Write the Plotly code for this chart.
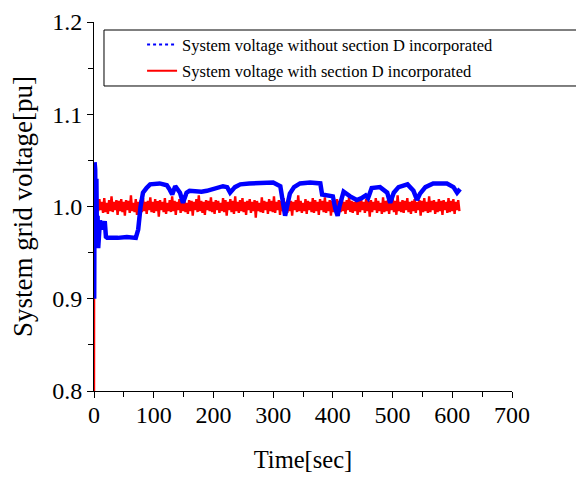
import plotly.graph_objects as go

# ---------------- data ----------------
blue_time = [0.3, 0.6, 1, 1.5, 2, 3, 4, 5, 6, 7, 8, 10, 12, 14, 16, 18, 20, 22,
             40, 55, 70, 74, 78, 82, 88, 94, 110, 122, 127, 131, 136, 140, 144,
             149, 155, 160, 170, 180, 189, 198, 206, 216, 223, 228, 236, 245,
             260, 280, 300, 312, 316, 320, 324, 328, 335, 345, 362, 379, 382,
             390, 400, 404, 408, 411, 418, 429, 440, 448, 455, 459, 465, 479,
             491, 496, 502, 510, 525, 535, 541, 546, 555, 568, 591, 602, 608, 613]
blue_voltage = [0.90, 0.95, 1.048, 0.96, 1.04, 0.955, 1.03, 0.96, 0.99, 0.955,
                0.98, 0.985, 0.975, 0.982, 0.978, 0.984, 0.967, 0.966,
                0.966, 0.967, 0.966, 0.975, 1.000, 1.015, 1.020, 1.024, 1.025,
                1.023, 1.018, 1.013, 1.022, 1.018, 1.015, 1.004, 1.015, 1.017,
                1.016, 1.016, 1.017, 1.019, 1.021, 1.022, 1.021, 1.015, 1.021,
                1.024, 1.025, 1.026, 1.026, 1.022, 1.008, 0.990, 1.002, 1.014,
                1.021, 1.025, 1.026, 1.025, 1.013, 1.012, 1.011, 0.998, 0.990,
                1.000, 1.016, 1.011, 1.007, 1.009, 1.012, 1.009, 1.020, 1.021,
                1.015, 1.004, 1.015, 1.021, 1.024, 1.017, 1.007, 1.014, 1.021,
                1.025, 1.025, 1.021, 1.015, 1.019]

red_transient_time = [0, 0.3, 0.6, 1.0, 1.5, 2.0, 2.5, 3.0, 3.5, 4.0]
red_transient_voltage = [0.80, 1.040, 0.960, 1.035, 0.975, 1.025, 0.978, 1.015, 0.985, 1.010]

red_sample_start = 5.0   # s
red_sample_step = 2.03   # s
red_voltage = [
    1.006, 0.995, 1.008, 0.996, 1.005, 0.993, 1.009, 0.994, 1.004, 0.992, 1.007, 0.995, 1.011, 0.994, 1.005, 0.996, 1.007, 0.991, 1.006, 0.995,
    1.008, 0.994, 1.005, 0.990, 1.007, 0.996, 1.006, 0.993, 1.012, 0.995, 1.004, 0.994, 1.008, 0.991, 1.005, 0.996, 1.007, 0.994, 1.009, 0.995,
    1.005, 0.992, 1.006, 0.996, 1.010, 0.994, 1.005, 0.993, 1.008, 0.995, 1.006, 0.989, 1.007, 0.996, 1.005, 0.994, 1.009, 0.992, 1.004, 0.995,
    1.007, 0.994, 1.011, 0.995, 1.006, 0.991, 1.005, 0.996, 1.008, 0.993, 1.006, 0.995, 1.009, 0.994, 1.004, 0.992, 1.007, 0.995, 1.006, 0.990,
    1.005, 0.996, 1.008, 0.994, 1.012, 0.995, 1.006, 0.993, 1.005, 0.991, 1.007, 0.996, 1.006, 0.995, 1.010, 0.994, 1.005, 0.992, 1.007, 0.996,
    1.006, 0.993, 1.004, 0.995, 1.009, 0.994, 1.007, 0.990, 1.005, 0.996, 1.008, 0.994, 1.006, 0.992, 1.011, 0.995, 1.005, 0.993, 1.007, 0.995,
    1.009, 0.994, 1.005, 0.991, 1.006, 0.996, 1.008, 0.993, 1.005, 0.995, 1.007, 0.988, 1.006, 0.995, 1.004, 0.994, 1.010, 0.993, 1.006, 0.996,
    1.005, 0.992, 1.008, 0.995, 1.006, 0.994, 1.011, 0.993, 1.005, 0.996, 1.007, 0.991, 1.006, 0.995, 1.009, 0.994, 1.005, 0.993, 1.008, 0.995,
    1.006, 0.990, 1.005, 0.996, 1.007, 0.994, 1.012, 0.995, 1.006, 0.993, 1.004, 0.995, 1.008, 0.992, 1.006, 0.996, 1.005, 0.994, 1.009, 0.993,
    1.007, 0.995, 1.005, 0.991, 1.008, 0.996, 1.006, 0.994, 1.010, 0.993, 1.005, 0.995, 1.007, 0.990, 1.006, 0.994, 1.005, 0.996, 1.008, 0.993,
    1.006, 0.994, 1.009, 0.995, 1.005, 0.992, 1.007, 0.996, 1.011, 0.994, 1.006, 0.993, 1.005, 0.995, 1.008, 0.991, 1.006, 0.994, 1.007, 0.996,
    1.005, 0.993, 1.008, 0.995, 1.006, 0.989, 1.007, 0.994, 1.005, 0.996, 1.009, 0.993, 1.006, 0.995, 1.004, 0.992, 1.010, 0.994, 1.006, 0.995,
    1.007, 0.992, 1.005, 0.996, 1.008, 0.994, 1.006, 0.991, 1.012, 0.995, 1.005, 0.994, 1.007, 0.993, 1.006, 0.996, 1.009, 0.994, 1.005, 0.992,
    1.006, 0.995, 1.008, 0.993, 1.005, 0.996, 1.007, 0.990, 1.006, 0.994, 1.009, 0.995, 1.005, 0.993, 1.011, 0.994, 1.006, 0.996, 1.007, 0.992,
    1.005, 0.994, 1.008, 0.995, 1.006, 0.991, 1.007, 0.996, 1.005, 0.993, 1.009, 0.994, 1.006, 0.995, 1.008, 0.992, 1.005, 0.996, 1.007, 0.995,
]

x_ticks = [0, 100, 200, 300, 400, 500, 600, 700]
y_ticks = [0.8, 0.9, 1.0, 1.1, 1.2]

legend_labels = ["System voltage without section D incorporated",
                 "System voltage with section D incorporated"]

# ------------- build series -------------
red_time = red_transient_time + [red_sample_start + i * red_sample_step for i in range(len(red_voltage))]
red_all = red_transient_voltage + red_voltage

FONT = "Liberation Serif"

fig = go.Figure()
fig.add_trace(go.Scatter(x=red_time, y=red_all, mode="lines",
                         line=dict(color="#FF0000", width=2.4), showlegend=False,
                         hoverinfo="skip"))
fig.add_trace(go.Scatter(x=blue_time, y=blue_voltage, mode="lines",
                         line=dict(color="#0000FF", width=4.5), showlegend=False,
                         hoverinfo="skip"))
# legend entries
fig.add_trace(go.Scatter(x=[None], y=[None], mode="lines", name=legend_labels[0],
                         line=dict(color="#0000FF", width=2, dash="dot"),
                         legendgroup="a"))
fig.add_trace(go.Scatter(x=[None], y=[None], mode="lines", name=legend_labels[1],
                         line=dict(color="#FF0000", width=2),
                         legendgroup="b"))

axis_common = dict(showgrid=False, zeroline=False, showline=True, linecolor="black",
                   linewidth=1, ticks="outside", ticklen=6, tickcolor="black",
                   tickwidth=1, mirror=False,
                   tickfont=dict(family=FONT, size=24, color="black"))

fig.update_xaxes(range=[0, 700], tickvals=x_ticks, ticklabelstandoff=-4,
                 minor=dict(dtick=50, tick0=0, ticks="outside", ticklen=5,
                            tickcolor="black", tickwidth=1),
                 title=dict(text="Time[sec]", font=dict(family=FONT, size=24.5, color="black"),
                            standoff=24),
                 **axis_common)
fig.update_yaxes(range=[0.8, 1.2], tickvals=y_ticks, tickformat=".1f",
                 minor=dict(dtick=0.05, tick0=0.8, ticks="outside", ticklen=5,
                            tickcolor="black", tickwidth=1),
                 title=dict(text="System grid voltage[pu]",
                            font=dict(family=FONT, size=27, color="black"), standoff=16),
                 **axis_common)

fig.add_shape(type="rect", xref="paper", yref="paper",
              x0=0.0239, x1=1.2, y0=0.8266, y1=0.9783,
              line=dict(color="black", width=1), fillcolor="rgba(0,0,0,0)")

fig.update_layout(
    width=584, height=478,
    margin=dict(l=86, r=80, t=14, b=95, autoexpand=False),
    paper_bgcolor="white", plot_bgcolor="white",
    font=dict(family=FONT, color="black"),
    legend=dict(x=0.115, y=0.986, xanchor="left", yanchor="top",
                bgcolor="rgba(0,0,0,0)", borderwidth=0,
                font=dict(family=FONT, size=16.5, color="black"),
                tracegroupgap=2, itemclick=False, itemdoubleclick=False),
)

fig.write_html("out.html")
